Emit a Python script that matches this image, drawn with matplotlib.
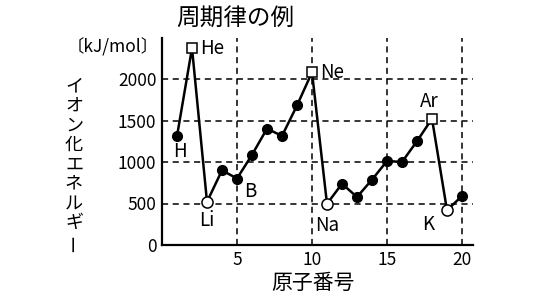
import matplotlib
matplotlib.use("Agg")
import matplotlib.pyplot as plt

plt.rcParams['font.family'] = ['Noto Sans CJK JP', 'DejaVu Sans']

atomic_numbers = list(range(1, 21))
energies = [1312, 2372, 520, 900, 801, 1086, 1402, 1314, 1681, 2081,
            496, 738, 578, 787, 1012, 1000, 1251, 1521, 419, 590]
noble_gases = [2, 10, 18]
alkali = [3, 11, 19]
labels = {1: "H", 2: "He", 3: "Li", 5: "B", 10: "Ne", 11: "Na", 18: "Ar", 19: "K"}
label_offsets = {1: (3, -15), 2: (8, 0), 3: (0, -19), 5: (13, -13),
                 10: (8, 0), 11: (0, -22), 18: (-3, 17), 19: (-19, -14)}
label_ha = {1: "center", 2: "left", 3: "center", 5: "center",
            10: "left", 11: "center", 18: "center", 19: "center"}
xticks = [5, 10, 15, 20]
yticks = [0, 500, 1000, 1500, 2000]
ylabel_chars = list("イオン化エネルギー")

fig = plt.figure(figsize=(5.45, 3.0), dpi=100)
ax = fig.add_axes([162/545, 1-245/300, 310.5/545, 207.5/300])
ax.set_xlim(0, 20.7)
ax.set_ylim(0, 2500)

for x in xticks:
    ax.axvline(x, color='black', lw=1.1, ls=(0, (4, 3)), zorder=1)
for y in yticks[1:]:
    ax.axhline(y, color='black', lw=1.1, ls=(0, (4, 3)), zorder=1)

ax.plot(atomic_numbers, energies, color='black', lw=1.8, zorder=2)
for z, e in zip(atomic_numbers, energies):
    if z in noble_gases:
        ax.plot(z, e, marker='s', ms=6.5, mfc='white', mec='black', mew=1.1, zorder=3)
    elif z in alkali:
        ax.plot(z, e, marker='o', ms=8, mfc='white', mec='black', mew=1.1, zorder=3)
    else:
        ax.plot(z, e, marker='o', ms=7, mfc='black', mec='black', zorder=3)

for z, name in labels.items():
    ax.annotate(name, (z, energies[z-1]), xytext=label_offsets[z],
                textcoords='offset pixels', ha=label_ha[z], va='center',
                fontsize=13.5, zorder=4)

for s in ['top', 'right']:
    ax.spines[s].set_visible(False)
for s in ['left', 'bottom']:
    ax.spines[s].set_linewidth(1.6)

ax.set_xticks(xticks)
ax.set_yticks(yticks)
ax.tick_params(length=0, labelsize=12.5, pad=4)

fig.text(235/545, 1-18/300, "周期律の例", fontsize=17, ha='center', va='center')
fig.text(113/545, 1-47/300, "〔kJ/mol〕", fontsize=12.5, ha='center', va='center')
fig.text(313/545, 1-283/300, "原子番号", fontsize=15, ha='center', va='center')

y0, step = 86, 19.6
for i, ch in enumerate(ylabel_chars):
    rot = 90 if ch == "ー" else 0
    fig.text(74/545, 1-(y0 + i*step)/300, ch, fontsize=13, ha='center', va='center',
             rotation=rot)

fig.savefig("out.png", dpi=100)
